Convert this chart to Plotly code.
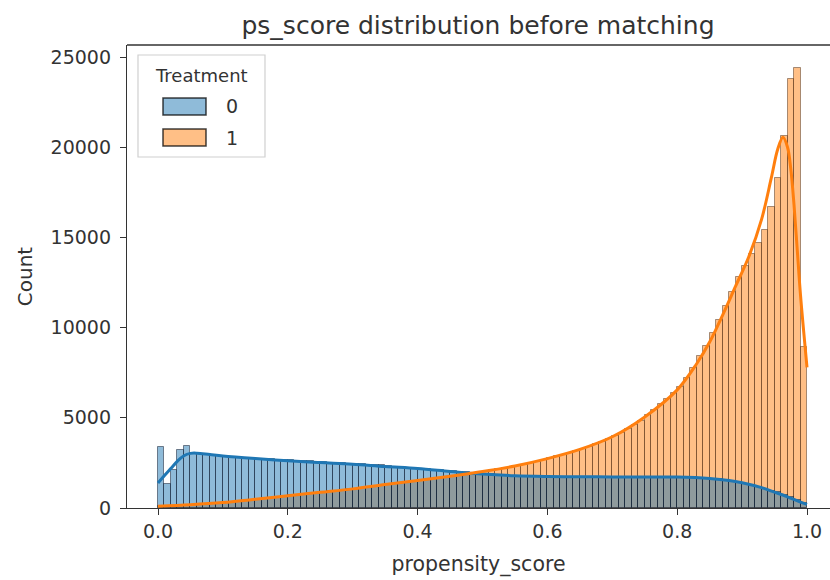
import plotly.graph_objects as go

# ---------------- data ----------------
bin_edges_start = 0.0
bin_width = 0.01
n_bins = 100
bin_centers = [round(bin_edges_start + bin_width * (i + 0.5), 4) for i in range(n_bins)]

count_t0 = [3380, 1350, 2100, 3200, 3450, 3050, 3000, 2960, 2930, 2900,
            2870, 2840, 2800, 2780, 2760, 2740, 2720, 2700, 2680, 2660,
            2640, 2620, 2600, 2580, 2560, 2540, 2520, 2500, 2480, 2460,
            2440, 2420, 2400, 2380, 2360, 2330, 2300, 2270, 2240, 2210,
            2180, 2150, 2120, 2090, 2060, 2030, 2000, 1970, 1940, 1910,
            1880, 1860, 1840, 1820, 1800, 1790, 1780, 1770, 1760, 1750,
            1745, 1740, 1740, 1735, 1735, 1730, 1730, 1730, 1725, 1725,
            1725, 1725, 1720, 1720, 1720, 1720, 1720, 1720, 1720, 1720,
            1720, 1710, 1700, 1680, 1660, 1630, 1590, 1540, 1480, 1410,
            1340, 1260, 1170, 1070, 970, 860, 740, 610, 470, 300]

count_t1 = [100, 110, 120, 130, 150, 170, 190, 210, 230, 260,
            290, 320, 360, 400, 440, 480, 520, 560, 600, 640,
            700, 730, 770, 800, 840, 880, 920, 960, 1000, 1040,
            1080, 1120, 1170, 1210, 1260, 1300, 1350, 1400, 1440, 1490,
            1540, 1580, 1620, 1670, 1710, 1760, 1810, 1860, 1910, 1960,
            2020, 2080, 2140, 2200, 2260, 2330, 2400, 2480, 2560, 2640,
            2770, 2860, 2950, 3050, 3150, 3270, 3400, 3530, 3670, 3820,
            4000, 4180, 4380, 4600, 4850, 5150, 5450, 5750, 6050, 6350,
            6700, 7200, 7750, 8400, 9000, 9700, 10400, 11200, 12000, 12800,
            13400, 14100, 14700, 15400, 16700, 18300, 20650, 23800, 24400, 8900]

kde_t0_x = [0.00, 0.01, 0.02, 0.03, 0.04, 0.05, 0.06, 0.08, 0.10, 0.15,
            0.20, 0.25, 0.30, 0.35, 0.40, 0.45, 0.50, 0.55, 0.60, 0.65,
            0.70, 0.75, 0.80, 0.85, 0.88, 0.90, 0.93, 0.95, 0.97, 0.99, 1.00]
kde_t0_y = [1385, 1800, 2200, 2600, 2900, 3030, 3040, 2960, 2880, 2740,
            2620, 2520, 2430, 2300, 2190, 2030, 1880, 1790, 1750, 1730,
            1725, 1720, 1715, 1640, 1530, 1400, 1130, 880, 620, 330, 200]

kde_t1_x = [0.00, 0.05, 0.10, 0.15, 0.20, 0.25, 0.30, 0.35, 0.40, 0.45,
            0.50, 0.55, 0.60, 0.65, 0.70, 0.75, 0.80, 0.83, 0.85, 0.87,
            0.89, 0.91, 0.93, 0.945, 0.955, 0.963, 0.97, 0.975, 0.98, 0.985,
            0.99, 1.00]
kde_t1_y = [100, 180, 300, 480, 680, 870, 1060, 1300, 1530, 1760,
            2020, 2330, 2740, 3250, 3950, 5050, 6550, 8000, 9200, 10700,
            12300, 13900, 16000, 18300, 19900, 20550, 20000, 18800, 16800, 14300,
            11800, 7800]

x_ticks = [0.0, 0.2, 0.4, 0.6, 0.8, 1.0]
y_ticks = [0, 5000, 10000, 15000, 20000, 25000]
legend_title = "Treatment"
legend_labels = ["0", "1"]

# ---------------- style ----------------
W, H = 830, 580
L, R, T, B = 127, 0, 45, 72
BLUE = "#1f77b4"
ORANGE = "#ff7f0e"
FONT = "DejaVu Sans"
TXT = "#333333"

def px(xp):
    return (xp - L) / (W - L - R)

def py(yp):
    return (H - B - yp) / (H - T - B)

fig = go.Figure()

fig.add_trace(go.Bar(
    x=bin_centers, y=count_t1, width=bin_width,
    marker=dict(color="rgba(255,127,14,0.5)",
                line=dict(color="rgba(60,30,10,0.45)", width=1)),
    name="1", showlegend=False, hoverinfo="skip"))
fig.add_trace(go.Bar(
    x=bin_centers, y=count_t0, width=bin_width,
    marker=dict(color="rgba(31,119,180,0.5)",
                line=dict(color="rgba(10,20,40,0.5)", width=1)),
    name="0", showlegend=False, hoverinfo="skip"))
fig.add_trace(go.Scatter(
    x=kde_t0_x, y=kde_t0_y, mode="lines", line=dict(color=BLUE, width=3, shape="spline"),
    showlegend=False, hoverinfo="skip"))
fig.add_trace(go.Scatter(
    x=kde_t1_x, y=kde_t1_y, mode="lines", line=dict(color=ORANGE, width=3, shape="spline"),
    showlegend=False, hoverinfo="skip"))

shapes = []
annotations = []
# top spine
shapes.append(dict(type="line", xref="paper", yref="paper",
                   x0=0, x1=1, y0=1, y1=1,
                   line=dict(color="#333", width=1.3), layer="above"))
# legend box
shapes.append(dict(type="rect", xref="paper", yref="paper",
                   x0=px(138), x1=px(265), y0=py(157), y1=py(55),
                   line=dict(color="#d0d0d0", width=1.2), fillcolor="rgba(255,255,255,0.85)",
                   layer="above"))
annotations.append(dict(text=legend_title, xref="paper", yref="paper",
                        x=px(201), y=py(75), showarrow=False,
                        font=dict(family=FONT, size=18, color=TXT),
                        xanchor="center", yanchor="middle"))
patch_fills = ["rgba(31,119,180,0.5)", "rgba(255,127,14,0.5)"]
patch_y = [(98, 115), (129, 146)]
for lab, fill, (ya, yb) in zip(legend_labels, patch_fills, patch_y):
    shapes.append(dict(type="rect", xref="paper", yref="paper",
                       x0=px(163), x1=px(206), y0=py(yb), y1=py(ya),
                       line=dict(color="rgba(0,0,0,0.75)", width=1.5), fillcolor=fill,
                       layer="above"))
    annotations.append(dict(text=lab, xref="paper", yref="paper",
                            x=px(224), y=py((ya + yb) / 2), showarrow=False,
                            font=dict(family=FONT, size=19, color=TXT),
                            xanchor="left", yanchor="middle"))

fig.update_layout(
    width=W, height=H,
    margin=dict(l=L, r=R, t=T, b=B),
    paper_bgcolor="white", plot_bgcolor="white",
    barmode="overlay", bargap=0,
    title=dict(text="ps_score distribution before matching",
               x=(478 - L) / (W - L - R), xref="paper", xanchor="center",
               y=1 - 25 / H, yanchor="middle",
               font=dict(family=FONT, size=25, color=TXT)),
    font=dict(family=FONT, color=TXT),
    shapes=shapes, annotations=annotations,
    showlegend=False,
)
fig.update_xaxes(
    range=[(L - 158) / 649, (W - 158) / 649],
    tickvals=x_ticks, tickformat=".1f",
    ticks="outside", ticklen=6, tickwidth=1.2, tickcolor="#333",
    showline=True, linecolor="#333", linewidth=1.3, mirror=False,
    showgrid=False, zeroline=False,
    tickfont=dict(family=FONT, size=19, color=TXT),
    title=dict(text="propensity_score", font=dict(family=FONT, size=20.5, color=TXT), standoff=15),
)
fig.update_yaxes(
    range=[0, 25670],
    tickvals=y_ticks, tickformat="d",
    ticks="outside", ticklen=6, tickwidth=1.2, tickcolor="#333",
    ticklabelstandoff=5,
    showline=True, linecolor="#333", linewidth=1.3, mirror=False,
    showgrid=False, zeroline=False,
    tickfont=dict(family=FONT, size=19, color=TXT),
    title=dict(text="Count", font=dict(family=FONT, size=20, color=TXT), standoff=12),
)

fig.write_html("out.html")
